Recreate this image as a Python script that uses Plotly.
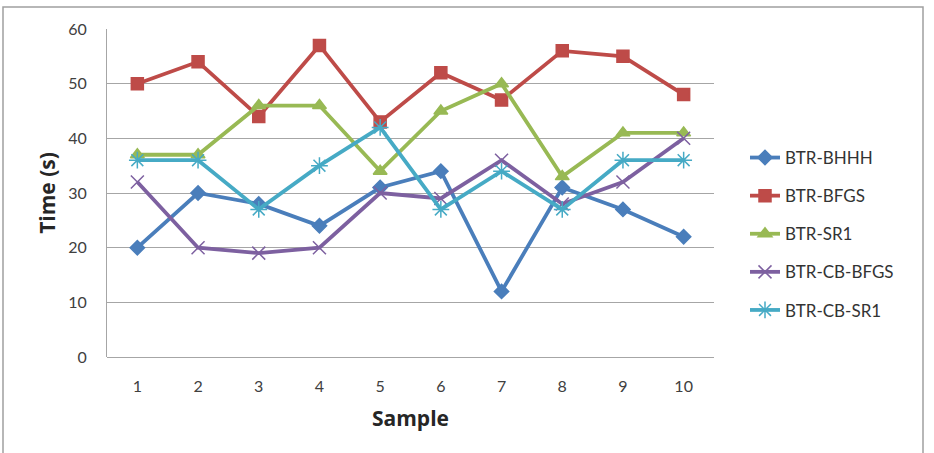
import plotly.graph_objects as go

samples = ["1", "2", "3", "4", "5", "6", "7", "8", "9", "10"]
series_names = ["BTR-BHHH", "BTR-BFGS", "BTR-SR1", "BTR-CB-BFGS", "BTR-CB-SR1"]
bhhh = [20, 30, 28, 24, 31, 34, 12, 31, 27, 22]
bfgs = [50, 54, 44, 57, 43, 52, 47, 56, 55, 48]
sr1 = [37, 37, 46, 46, 34, 45, 50, 33, 41, 41]
cb_bfgs = [32, 20, 19, 20, 30, 29, 36, 28, 32, 40]
cb_sr1 = [36, 36, 27, 35, 42, 27, 34, 27, 36, 36]
y_ticks = [0, 10, 20, 30, 40, 50, 60]

colors = ["#4A7EBB", "#BE4B48", "#98B954", "#7D60A0", "#46AAC5"]
symbols = ["diamond", "square", "triangle-up", "x-thin-open", "asterisk-open"]
sizes = [11, 12, 12, 13, 14]
values = [bhhh, bfgs, sr1, cb_bfgs, cb_sr1]

FONT = "Lato, Open Sans, sans-serif"
TFONT = "Open Sans, Lato, sans-serif"

fig = go.Figure()
for name, vals, c, s, sz in zip(series_names, values, colors, symbols, sizes):
    fig.add_trace(go.Scatter(
        x=samples, y=vals, name=name, legendgroup=name,
        mode="lines+markers",
        line=dict(color=c, width=3.8),
        marker=dict(symbol=s, size=sz, color=c, line=dict(color=c, width=1.5)),
    ))

L, R, T, B = 107, 220, 29, 96
W, H = 934, 453
pw, ph = W - L - R, H - T - B

def px_x(x):
    return (x - L) / pw

def px_y(y):
    return (H - B - y) / ph

fig.update_layout(
    width=W, height=H,
    margin=dict(l=L, r=R, t=T, b=B),
    paper_bgcolor="white", plot_bgcolor="white",
    font=dict(family=FONT, color="#404040", size=15),
    showlegend=True,
    legend=dict(
        x=px_x(745), y=px_y(140), xanchor="left", yanchor="top",
        traceorder="grouped", tracegroupgap=13,
        font=dict(family=FONT, size=17, color="#333333"),
        bgcolor="rgba(0,0,0,0)",
    ),
    xaxis=dict(
        type="category", categoryorder="array", categoryarray=samples,
        range=[-0.5, len(samples) - 0.5],
        showgrid=False, showline=False, ticks="",
        ticklabelstandoff=18,
        tickfont=dict(size=16, color="#404040"),
        title=dict(text="<b>Sample</b>", font=dict(family=TFONT, size=21, color="#262626"), standoff=17),
    ),
    yaxis=dict(
        range=[0, 60], tickvals=y_ticks,
        showgrid=True, gridcolor="#A6A6A6", gridwidth=1,
        zeroline=True, zerolinecolor="#A6A6A6", zerolinewidth=1,
        showline=True, linecolor="#A6A6A6", linewidth=1,
        ticks="", ticklabelstandoff=16,
        tickfont=dict(size=16, color="#404040"),
        title=dict(text="<b>Time (s)</b>", font=dict(family=TFONT, size=21, color="#262626"), standoff=6),
    ),
    shapes=[dict(
        type="rect", xref="paper", yref="paper",
        x0=px_x(3), x1=px_x(923), y0=px_y(460), y1=px_y(7),
        line=dict(color="#A0A0A0", width=1.5), fillcolor="rgba(0,0,0,0)",
        layer="below",
    )],
)

fig.write_html("out.html")
